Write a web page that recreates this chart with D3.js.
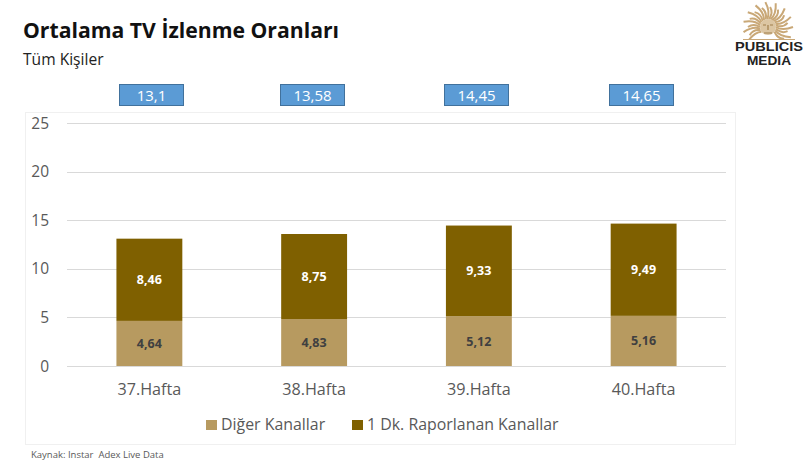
<!DOCTYPE html>
<html>
<head>
<meta charset="utf-8">
<script src="https://cdn.jsdelivr.net/npm/d3@7/dist/d3.min.js"></script>
<style>
html, body { margin: 0; padding: 0; background: #fff; }
text { font-family: "Open Sans", "Noto Sans", sans-serif; }
</style>
</head>
<body>
<div id="chart"></div>
<script>
var weeks = ["37.Hafta", "38.Hafta", "39.Hafta", "40.Hafta"];
var other = [4.64, 4.83, 5.12, 5.16];
var reported = [8.46, 8.75, 9.33, 9.49];
var totals = ["13,1", "13,58", "14,45", "14,65"];
var yTicks = [0, 5, 10, 15, 20, 25];
var seriesNames = ["Diğer Kanallar", "1 Dk. Raporlanan Kanallar"];
var seriesColors = ["#b79a60", "#7f6000"];

var svg = d3.select("#chart").append("svg")
	.attr("width", 810)
	.attr("height", 460)
	.style("display", "block");

var x = d3.scaleBand().domain(weeks).range([67, 726]).paddingInner(0.6).paddingOuter(0.3);
var y = d3.scaleLinear().domain([0, 25]).range([366, 123]);
var comma = function(v) { return d3.format(".2f")(v).replace(".", ","); };

// title
svg.append("text").text("Ortalama TV İzlenme Oranları")
	.attr("x", 23).attr("y", 38)
	.style("font-size", "21.2px").style("font-weight", "700").attr("fill", "#111");
svg.append("text").text("Tüm Kişiler")
	.attr("x", 23).attr("y", 65)
	.style("font-size", "15.6px").attr("fill", "#222");

// chart frame
svg.append("rect")
	.attr("x", 25.5).attr("y", 112.5).attr("width", 710).attr("height", 332)
	.attr("fill", "#fff").attr("stroke", "#f0f0f0");

// grid
svg.selectAll(".grid").data(yTicks).enter().append("line")
	.attr("class", "grid")
	.attr("x1", 67).attr("x2", 726)
	.attr("y1", function(d) { return Math.round(y(d)) + 0.5; })
	.attr("y2", function(d) { return Math.round(y(d)) + 0.5; })
	.attr("stroke", "#d9d9d9");

svg.selectAll(".ytick").data(yTicks).enter().append("text")
	.attr("class", "ytick")
	.text(function(d) { return d; })
	.attr("x", 49).attr("y", function(d) { return y(d) + 5.5; })
	.attr("text-anchor", "end")
	.style("font-size", "15.5px").attr("fill", "#595959");

// bars
var g = svg.selectAll(".week").data(weeks).enter().append("g").attr("class", "week");
g.append("rect")
	.attr("x", function(d) { return x(d); })
	.attr("width", x.bandwidth())
	.attr("y", function(d, i) { return y(other[i]); })
	.attr("height", function(d, i) { return y(0) - y(other[i]); })
	.attr("fill", seriesColors[0]);
g.append("rect")
	.attr("x", function(d) { return x(d); })
	.attr("width", x.bandwidth())
	.attr("y", function(d, i) { return y(other[i] + reported[i]); })
	.attr("height", function(d, i) { return y(other[i]) - y(other[i] + reported[i]); })
	.attr("fill", seriesColors[1]);

g.append("text")
	.text(function(d, i) { return comma(other[i]); })
	.attr("x", function(d) { return x(d) + x.bandwidth() / 2; })
	.attr("y", function(d, i) { return y(other[i] / 2) + 4.5; })
	.attr("text-anchor", "middle")
	.style("font-size", "12.5px").style("font-weight", "700").attr("fill", "#404040");
g.append("text")
	.text(function(d, i) { return comma(reported[i]); })
	.attr("x", function(d) { return x(d) + x.bandwidth() / 2; })
	.attr("y", function(d, i) { return y(other[i] + reported[i] / 2) + 4.5; })
	.attr("text-anchor", "middle")
	.style("font-size", "12.5px").style("font-weight", "700").attr("fill", "#fff");

// category labels
g.append("text")
	.text(function(d) { return d; })
	.attr("x", function(d) { return x(d) + x.bandwidth() / 2; })
	.attr("y", 395)
	.attr("text-anchor", "middle")
	.style("font-size", "16.2px").attr("fill", "#595959");

// total boxes are placed by hand in the original, not on the bars
var boxLeft = [119.5, 280.5, 444.5, 609.5];
g.append("rect")
	.attr("x", function(d, i) { return boxLeft[i]; })
	.attr("y", 84.5).attr("width", 64).attr("height", 21)
	.attr("fill", "#5b9bd5").attr("stroke", "#41719c");
g.append("text")
	.text(function(d, i) { return totals[i]; })
	.attr("x", function(d, i) { return boxLeft[i] + 32; })
	.attr("y", 100.5)
	.attr("text-anchor", "middle")
	.style("font-size", "15px").attr("fill", "#fff");

// legend
var legendX = [206, 352];
seriesNames.forEach(function(name, i) {
	svg.append("rect")
		.attr("x", legendX[i]).attr("y", 420)
		.attr("width", 11).attr("height", 10)
		.attr("fill", seriesColors[i]);
	svg.append("text").text(name)
		.attr("x", legendX[i] + 15).attr("y", 430)
		.style("font-size", "15.9px").attr("fill", "#595959");
});

svg.append("text").text("Kaynak: Instar  Adex Live Data")
	.attr("x", 31).attr("y", 458)
	.style("white-space", "pre")
	.style("font-size", "9.5px").attr("fill", "#595959");

// logo
var logo = svg.append("g");
svg.append("clipPath").attr("id", "sunClip").append("rect")
	.attr("x", 740).attr("y", 0).attr("width", 60).attr("height", 39);
var rays = d3.range(-126, 127, 12);
logo.append("g").attr("clip-path", "url(#sunClip)")
	.selectAll("path").data(rays).enter().append("path")
	.attr("d", function(d, i) {
		var a = (d - 90) * Math.PI / 180;
		var r = i % 2 ? 20 : 25;
		var b = a + 0.28;
		return "M" + (768 + 8 * Math.cos(a)) + "," + (27 + 8 * Math.sin(a)) +
			"Q" + (768 + 15 * Math.cos(b)) + "," + (27 + 15 * Math.sin(b)) +
			" " + (768 + r * Math.cos(a)) + "," + (27 + r * Math.sin(a));
	})
	.attr("fill", "none").attr("stroke", "#c9a877").attr("stroke-width", 2);
logo.append("circle").attr("cx", 768).attr("cy", 27).attr("r", 8).attr("fill", "#dcc6a3");
logo.append("path").attr("d", "M763,25h3M770,25h3M768,25v5M764,33h8")
	.attr("fill", "none").attr("stroke", "#a07f4c").attr("stroke-width", 1.2);
logo.append("line").attr("x1", 743).attr("x2", 795).attr("y1", 39.5).attr("y2", 39.5)
	.attr("stroke", "#c9a877").attr("stroke-width", 1.2);
logo.append("text").text("PUBLICIS").attr("x", 735).attr("y", 51)
	.attr("textLength", 68).attr("lengthAdjust", "spacingAndGlyphs")
	.style("font-family", "'Liberation Sans', sans-serif").style("font-size", "12.5px").style("font-weight", "700").attr("fill", "#222");
logo.append("text").text("MEDIA").attr("x", 747).attr("y", 65)
	.attr("textLength", 44).attr("lengthAdjust", "spacingAndGlyphs")
	.style("font-family", "'Liberation Sans', sans-serif").style("font-size", "12.5px").style("font-weight", "700").attr("fill", "#222");
</script>
</body>
</html>
